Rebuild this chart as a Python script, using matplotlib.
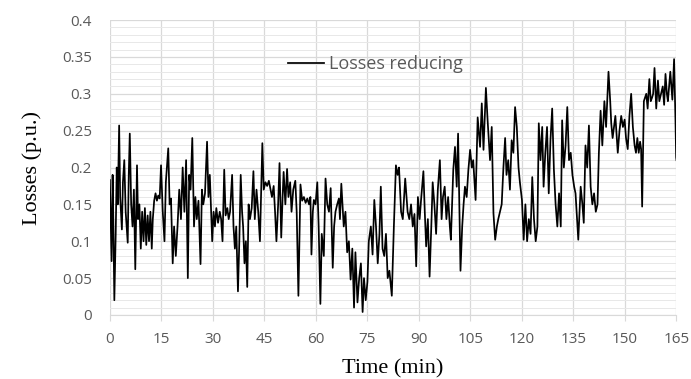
import matplotlib
matplotlib.use('Agg')
import matplotlib.pyplot as plt
from matplotlib.ticker import MultipleLocator

# (time in min, losses in p.u.)
time_min = [
    0, 0.3, 0.5, 0.8, 1.0, 1.3, 1.7, 2.0, 2.3, 2.7, 3.0, 3.5, 3.8, 4.2, 4.6, 5.2, 5.5, 5.8, 6.2, 6.6,
    7.0, 7.4, 7.9, 8.2, 8.6, 9.0, 9.4, 9.8, 10.2, 10.6, 11.0, 11.4, 11.8, 12.2, 12.5, 12.9, 13.3, 13.7, 14.1, 14.5,
    14.9, 15.4, 15.9, 16.3, 17.0, 17.4, 17.8, 18.3, 18.7, 19.2, 19.7, 20.2, 20.7, 21.2, 21.7, 22.2, 22.7, 23.1, 23.5, 24.0,
    24.5, 24.9, 25.3, 25.8, 26.4, 26.8, 27.2, 27.7, 28.3, 28.7, 29.1, 29.8, 30.2, 30.6, 31.0, 31.5, 32.0, 32.4, 32.8, 33.3,
    33.7, 34.2, 34.6, 35.0, 35.6, 36.0, 36.4, 36.8, 37.3, 37.7, 38.1, 38.5, 38.8, 39.2, 39.6, 40.0, 40.4, 40.8, 41.3, 41.8,
    42.2, 42.7, 43.2, 43.7, 44.4, 44.8, 45.3, 45.8, 46.3, 46.8,
    47.2, 47.7, 48.1, 48.5, 49.0, 49.4, 49.9, 50.3, 50.6, 51.1, 51.6, 52.0, 52.5, 52.9, 53.4, 54.0, 54.4, 54.9, 55.5, 56.0,
    56.5, 57.0, 57.5, 58.0, 58.4, 58.7, 59.1, 59.4, 59.9, 60.4, 60.8, 61.3, 61.7, 62.3, 62.8, 63.3, 63.8, 64.3, 64.9, 65.3,
    65.7, 66.2, 66.7, 67.0, 67.4, 68.1, 68.6, 69.1, 69.6, 70.1, 70.6, 71.1, 71.5, 72.1, 72.6, 73.1, 73.6, 74.0, 74.5, 75.0,
    75.4, 76.0, 76.5, 77.0, 77.5, 78.0, 78.5, 78.9, 79.4, 79.9, 80.4, 80.9, 81.4, 82.1, 82.7, 83.3, 83.8, 84.2, 84.8, 85.3,
    86.0, 86.4, 86.7, 87.2, 87.7, 88.2, 88.7, 89.2, 89.7, 90.2, 90.6, 91.3, 91.7, 92.1, 92.6, 93.1, 93.6, 94.0, 94.5, 95.0,
    95.5, 96.1, 96.6, 97.0, 97.5, 98.0, 98.5, 99.0, 99.3, 100.0, 100.5, 101.0, 101.4, 102.1, 102.6, 103.0, 103.4, 103.9, 104.4, 104.9,
    105.4, 105.8, 106.5, 107.1, 107.8, 108.3, 108.8, 109.5, 110.0, 110.7, 111.2, 111.7, 112.2, 112.7, 113.1, 113.6, 114.1, 114.6, 115.1, 115.5,
    116.0, 116.5, 117.0, 117.5, 118.0, 118.5, 119.0, 119.4, 120.0, 120.5, 121.0, 121.5, 122.0, 122.5, 123.0, 123.5, 124.0, 124.5, 124.9, 125.4,
    125.9, 126.3, 126.8, 127.3, 127.8, 128.3, 128.8, 129.3, 129.8, 130.3, 130.8, 131.3, 131.7, 132.2, 132.7, 133.2, 133.7, 134.2, 134.7, 135.2,
    135.6, 136.4, 137.1, 137.6, 138.0, 138.5, 139.0, 139.5, 140.0, 140.5, 141.0, 141.5, 142.0, 142.4, 142.9, 143.4, 144.0, 144.5, 145.2, 145.7,
    146.0, 146.4, 147.2, 147.9, 148.4, 148.9, 149.4, 149.9, 150.3, 150.8, 151.3, 151.8, 152.3, 152.8, 153.2, 153.6, 154.0, 154.4, 154.7, 155.0,
    155.5, 156.2, 156.6, 157.1, 157.5, 157.9, 158.2, 158.6, 159.1, 159.6, 160.0, 160.5, 161.0, 161.4, 161.8, 162.2, 162.5, 163.2, 163.8, 164.3,
    164.7, 164.9, 165.0,
]
losses = [
    0.183, 0.12, 0.073, 0.19, 0.13, 0.02, 0.11, 0.2, 0.15, 0.257, 0.16, 0.116, 0.18, 0.21, 0.14, 0.098, 0.19, 0.246, 0.15, 0.12,
    0.17, 0.062, 0.203, 0.13, 0.15, 0.09, 0.14, 0.1, 0.145, 0.095, 0.135, 0.1, 0.14, 0.09, 0.13, 0.155, 0.165, 0.155, 0.162, 0.158,
    0.203, 0.14, 0.1, 0.18, 0.226, 0.15, 0.158, 0.07, 0.12, 0.08, 0.12, 0.17, 0.13, 0.2, 0.14, 0.21, 0.05, 0.19, 0.17, 0.24,
    0.12, 0.16, 0.13, 0.155, 0.069, 0.17, 0.15, 0.165, 0.235, 0.16, 0.19, 0.1, 0.14, 0.12, 0.145, 0.125, 0.14, 0.13, 0.1, 0.197,
    0.135, 0.145, 0.13, 0.14, 0.19, 0.12, 0.09, 0.12, 0.032, 0.1, 0.19, 0.14, 0.12, 0.07, 0.1, 0.038, 0.15, 0.13, 0.145, 0.195,
    0.13, 0.17, 0.14, 0.1, 0.233, 0.17, 0.18, 0.175, 0.182, 0.17,
    0.16, 0.175, 0.14, 0.1, 0.15, 0.206, 0.105, 0.16, 0.194, 0.15, 0.198, 0.16, 0.18, 0.14, 0.17, 0.182, 0.14, 0.026, 0.177, 0.155,
    0.16, 0.152, 0.158, 0.15, 0.16, 0.082, 0.14, 0.156, 0.15, 0.18, 0.12, 0.015, 0.11, 0.08, 0.185, 0.15, 0.14, 0.172, 0.064, 0.12,
    0.14, 0.15, 0.158, 0.13, 0.178, 0.12, 0.14, 0.085, 0.1, 0.048, 0.09, 0.01, 0.085, 0.017, 0.05, 0.07, 0.004, 0.05, 0.02, 0.045,
    0.1, 0.12, 0.082, 0.156, 0.12, 0.07, 0.11, 0.174, 0.09, 0.08, 0.11, 0.05, 0.06, 0.026, 0.12, 0.203, 0.19, 0.2, 0.14, 0.13,
    0.185, 0.16, 0.14, 0.13, 0.15, 0.12, 0.137, 0.066, 0.16, 0.13, 0.155, 0.195, 0.14, 0.093, 0.13, 0.052, 0.12, 0.18, 0.15, 0.11,
    0.17, 0.21, 0.13, 0.16, 0.174, 0.13, 0.16, 0.12, 0.102, 0.197, 0.228, 0.174, 0.246, 0.06, 0.12, 0.15, 0.174, 0.16, 0.197, 0.224,
    0.2, 0.21, 0.156, 0.268, 0.228, 0.287, 0.224, 0.308, 0.264, 0.21, 0.255, 0.138, 0.102, 0.12, 0.13, 0.14, 0.15, 0.2, 0.24, 0.19,
    0.21, 0.17, 0.237, 0.22, 0.282, 0.255, 0.2, 0.18, 0.156, 0.102, 0.15, 0.1, 0.13, 0.11, 0.187, 0.13, 0.1, 0.12, 0.26, 0.21,
    0.255, 0.174, 0.22, 0.255, 0.165, 0.237, 0.28, 0.197, 0.15, 0.12, 0.165, 0.12, 0.264, 0.2, 0.23, 0.282, 0.21, 0.22, 0.19, 0.174,
    0.165, 0.102, 0.174, 0.15, 0.125, 0.23, 0.2, 0.257, 0.174, 0.15, 0.165, 0.14, 0.15, 0.22, 0.277, 0.23, 0.29, 0.255, 0.33, 0.29,
    0.26, 0.24, 0.27, 0.22, 0.25, 0.27, 0.255, 0.265, 0.24, 0.225, 0.27, 0.3, 0.255, 0.23, 0.22, 0.24, 0.22, 0.235, 0.225, 0.147,
    0.29, 0.3, 0.28, 0.32, 0.29, 0.295, 0.3, 0.335, 0.28, 0.318, 0.29, 0.3, 0.31, 0.285, 0.327, 0.3, 0.29, 0.33, 0.292, 0.347,
    0.265, 0.214, 0.21,
]

x_ticks = [0, 15, 30, 45, 60, 75, 90, 105, 120, 135, 150, 165]
y_ticks = [0, 0.05, 0.1, 0.15, 0.2, 0.25, 0.3, 0.35, 0.4]
y_tick_labels = ['0', '0.05', '0.1', '0.15', '0.2', '0.25', '0.3', '0.35', '0.4']

fig = plt.figure(figsize=(6.91, 3.79), dpi=100)
ax = fig.add_axes([0.159, 0.169, 0.820, 0.778])

ax.plot(time_min, losses, color='black', linewidth=1.25, label='Losses reducing')

ax.set_xlim(0, 165)
ax.set_ylim(0, 0.4)
ax.set_xticks(x_ticks)
ax.set_yticks(y_ticks)
ax.set_yticklabels(y_tick_labels)
ax.yaxis.set_minor_locator(MultipleLocator(0.01))

ax.grid(True, which='major', color='#d9d9d9', linewidth=0.9)
ax.grid(True, which='minor', axis='y', color='#e8e8e8', linewidth=0.7)
ax.set_axisbelow(True)

for side in ['top', 'right', 'left']:
    ax.spines[side].set_visible(False)
ax.spines['bottom'].set_color('#d9d9d9')

ax.tick_params(axis='x', which='major', length=4, color='#d9d9d9', labelsize=11,
               labelcolor='#595959', pad=8)
ax.tick_params(axis='y', which='both', length=0, labelsize=11, labelcolor='#595959', pad=13)
for lbl in ax.get_xticklabels() + ax.get_yticklabels():
    lbl.set_family('Open Sans')

ax.set_xlabel('Time (min)', family='Liberation Serif', fontsize=16, labelpad=9)
ax.set_ylabel('Losses (p.u.)', family='Liberation Serif', fontsize=16, labelpad=14)

leg = ax.legend(loc='center left', bbox_to_anchor=(0.285, 0.851), frameon=False,
                handlelength=2.0, handletextpad=0.3,
                prop={'family': 'Open Sans', 'size': 13})
for t in leg.get_texts():
    t.set_color('#595959')

fig.savefig('out.png', dpi=100)
